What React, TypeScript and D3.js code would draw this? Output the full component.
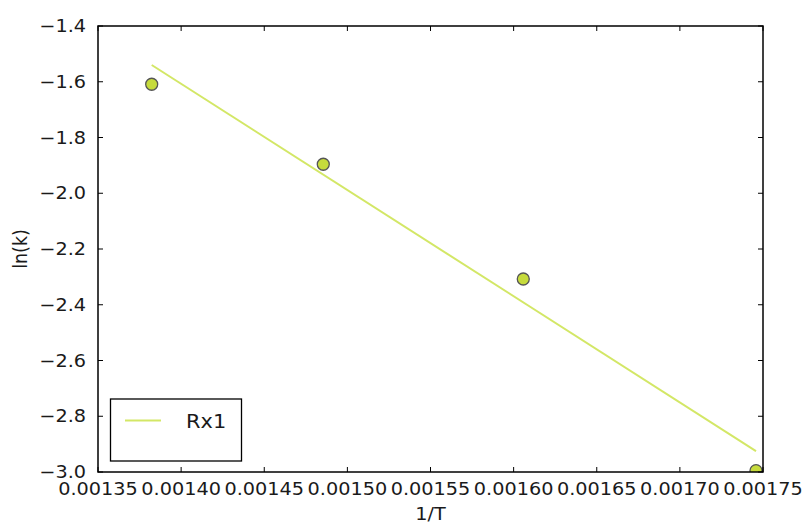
import React from "react";
import * as d3 from "d3";

const invT = [0.0013823, 0.0014855, 0.0016058, 0.0017458];
const lnK = [-1.609, -1.896, -2.3076, -2.995];
const fitX = [0.0013823, 0.0017458];
const fitY = [-1.54, -2.925];
const xTicks = [0.00135, 0.0014, 0.00145, 0.0015, 0.00155, 0.0016, 0.00165, 0.0017, 0.00175];
const yTicks = [-1.4, -1.6, -1.8, -2.0, -2.2, -2.4, -2.6, -2.8, -3.0];
const seriesName = "Rx1";

const W = 804, H = 526;
const L = 98, R = 763, T = 26, B = 472;
const FONT = "DejaVu Sans";
const FS = 17.5;
const SX = 1.1;

export default function App() {
  const x = d3.scaleLinear().domain([0.00135, 0.00175]).range([L, R]);
  const y = d3.scaleLinear().domain([-3.0, -1.4]).range([B, T]);
  const line = d3.line<number>().x((d, i) => x(fitX[i])).y((d) => y(d));
  const fmtY = (v: number) => (v < 0 ? "\u2212" : "") + Math.abs(v).toFixed(1);
  const fmtX = (v: number) => v.toFixed(5);
  const tl = 5;
  return (
    <svg width={W} height={H} style={{ position: "absolute", left: 0, top: 0 }} fontFamily={FONT}>
      <rect x={0} y={0} width={W} height={H} fill="#fff" />
      <defs>
        <clipPath id="pa">
          <rect x={L} y={T} width={R - L} height={B - T} />
        </clipPath>
      </defs>
      <g clipPath="url(#pa)">
        <path d={line(fitY) || ""} fill="none" stroke="#d3e766" strokeWidth={2} />
        {invT.map((v, i) => (
          <circle key={i} cx={x(v)} cy={y(lnK[i])} r={6} fill="#c6db3c" stroke="#555" strokeWidth={1.3} />
        ))}
      </g>
      {xTicks.map((t, i) => (
        <g key={"x" + i}>
          <line x1={x(t)} x2={x(t)} y1={B} y2={B - tl} stroke="#000" strokeWidth={1} />
          <line x1={x(t)} x2={x(t)} y1={T} y2={T + tl} stroke="#000" strokeWidth={1} />
          <text transform={`translate(${x(t)},${B + 23}) scale(${SX},1)`} textAnchor="middle" fontSize={FS} fill="#1a1a1a">
            {fmtX(t)}
          </text>
        </g>
      ))}
      {yTicks.map((t, i) => (
        <g key={"y" + i}>
          <line x1={L} x2={L + tl} y1={y(t)} y2={y(t)} stroke="#000" strokeWidth={1} />
          <line x1={R} x2={R - tl} y1={y(t)} y2={y(t)} stroke="#000" strokeWidth={1} />
          <text transform={`translate(${L - 12},${y(t) + 6}) scale(${SX},1)`} textAnchor="end" fontSize={FS} fill="#1a1a1a">
            {fmtY(t)}
          </text>
        </g>
      ))}
      <rect x={L} y={T} width={R - L} height={B - T} fill="none" stroke="#000" strokeWidth={1.5} />
      <text transform={`translate(${(L + R) / 2},${520}) scale(${SX},1)`} textAnchor="middle" fontSize={FS} fill="#1a1a1a">
        1/T
      </text>
      <text transform={`translate(${27},${(T + B) / 2}) rotate(-90) scale(1,${SX})`} textAnchor="middle" fontSize={FS} fill="#1a1a1a">
        ln(k)
      </text>
      <rect x={110.5} y={399} width={131} height={62} fill="#fff" stroke="#000" strokeWidth={1.3} />
      <line x1={125} x2={161} y1={420.5} y2={420.5} stroke="#d3e766" strokeWidth={2} />
      <text transform={`translate(${186},${428}) scale(${SX},1)`} fontSize={19} fill="#1a1a1a">
        {seriesName}
      </text>
    </svg>
  );
}
